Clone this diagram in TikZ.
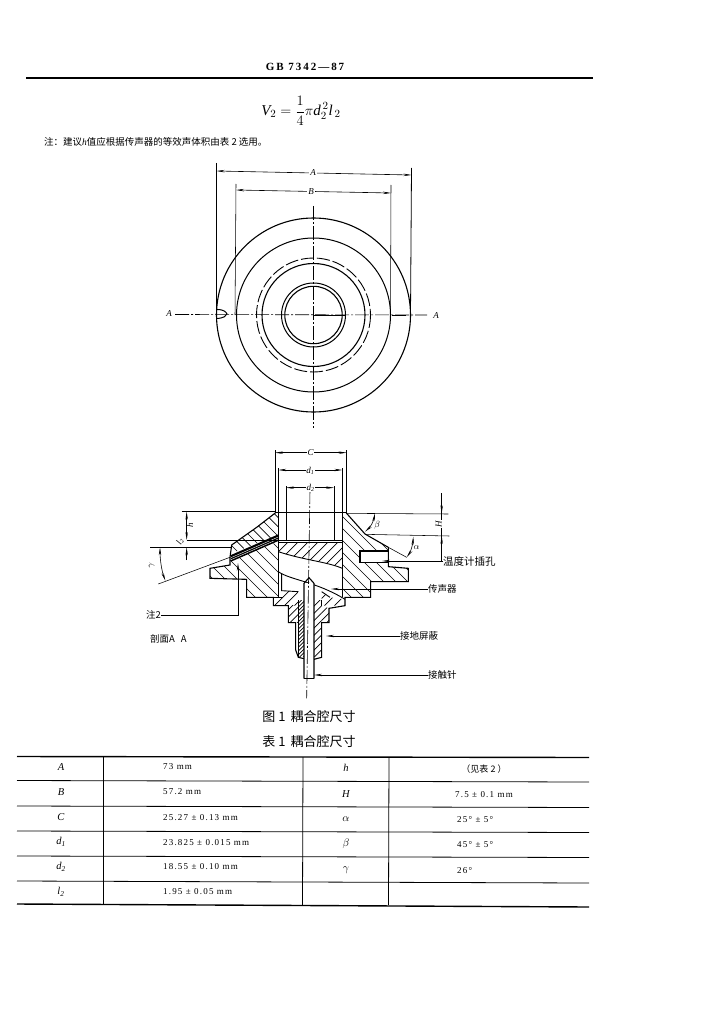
\documentclass[tikz,border=0pt]{standalone}
\usepackage{fontspec}
\setmainfont{Liberation Serif}
\newfontfamily\cjk{Noto Sans CJK SC}
\newfontfamily\tabfont[LetterSpace=13]{Liberation Serif}
\newfontfamily\hdfont[LetterSpace=18]{Liberation Serif}
\usetikzlibrary{arrows.meta}
\tikzset{
  thin line/.style={line width=0.55pt,black},
  outline/.style={line width=1.1pt,black,line join=miter},
  hatchline/.style={line width=0.7pt,black},
  centre/.style={line width=0.6pt,black,dash pattern=on 14pt off 2pt on 2pt off 2pt},
  dim/.style={line width=0.6pt,black,{Stealth[length=8pt,width=2.4pt]}-{Stealth[length=8pt,width=2.4pt]}},
  lead/.style={line width=0.6pt,black,-{Stealth[length=8pt,width=2.4pt]}},
  lbl/.style={inner sep=0.8pt,font=\fontsize{9}{10}\selectfont\itshape,fill=white},
  cn/.style={inner sep=0pt,font=\fontsize{9.5}{10}\cjk},
  cell/.style={inner sep=0pt,font=\fontsize{9}{10}\tabfont},
  cellm/.style={inner sep=0pt,font=\fontsize{10.5}{11}\selectfont\itshape},
  rule/.style={line width=0.8pt,black},
  heavyrule/.style={line width=1.4pt,black}
}
% hatch: #1 direction (+1 = "\", -1 = "/"), #2 spacing, #3 closed path
\newcommand\hatchfill[3]{%
  \begin{scope}
    \clip #3;
    \foreach \n in {0,...,200}{%
      \pgfmathsetmacro\hk{-600+\n*#2}%
      \draw[hatchline] (\hk,0) -- ++(#1*900,900);
    }
  \end{scope}}
\begin{document}
\begin{tikzpicture}[x=1pt,y=-1pt]
\useasboundingbox (0,0) rectangle (719,1024);
\fill[white] (0,0) rectangle (719,1024);

% header
\node[inner sep=0pt,font=\fontsize{11}{12}\hdfont\bfseries] (hd) at (305,67) {GB 7342—87};
\coordinate (hl) at (26,78); \coordinate (hr) at (593,78);
\draw[heavyrule] (hl) -- (hr);
\node[inner sep=0pt,font=\fontsize{15}{16}\selectfont] (fm) at (301,111) {$\displaystyle \mathit{V}_{2}=\frac{1}{4}\pi \mathit{d}_{2}^{\,2}\mathit{l}_{\,2}$};
\node[inner sep=0pt,anchor=west,font=\fontsize{9.5}{10}\cjk] (nt) at (44,142) {注：建议{\fontspec{Liberation Serif}\itshape h}值应根据传声器的等效声体积由表 2 选用。};

% ---------- top view
\coordinate (o) at (313.5,315);
\draw[line width=1.1pt] (o) circle (97);
\draw[line width=1pt] (o) circle (77);
\draw[line width=0.9pt,dash pattern=on 13pt off 3pt] (o) circle (57);
\draw[line width=1.1pt] (o) circle (51.5);
\draw[line width=1pt] (o) circle (32);
\draw[line width=1.1pt] (o) circle (28.7);
\draw[line width=1pt] (217,309.5) .. controls (224,309.5) and (226,312) .. (227,314) .. controls (226,316) and (224,318) .. (217,318.5);
\coordinate (a1) at (175,314.5); \coordinate (a2) at (427,315);
\draw[centre] (a1) -- (a2);
\draw[line width=1pt] (313,315) -- (345,315) (392,315) -- (406,315);
\coordinate (v1) at (313.5,206); \coordinate (v2) at (313.5,428);
\draw[centre] (v1) -- (v2);
\node[lbl] (secL) at (169,314) {A};
\node[lbl] (secR) at (436,316) {A};
\coordinate (ea1) at (216.5,163); \coordinate (ea2) at (411.5,168);
\coordinate (eb1) at (236,184); \coordinate (eb2) at (391,185);
\draw[thin line,line width=0.8pt] (ea1) -- (216.5,315);
\draw[thin line,line width=0.8pt] (ea2) -- (410.5,315);
\draw[thin line] (eb1) -- (235,315);
\draw[thin line] (eb2) -- (390.5,315);
\draw[dim] (216.5,171) -- (411.5,175);
\node[lbl] (dA) at (313,173) {A};
\draw[dim] (236,190) -- (391,193);
\node[lbl] (dB) at (311,191.5) {B};

% ---------- section (coordinates in 3x crop units)
\begin{scope}[shift={(130,440)},x=0.33333pt,y=-0.33333pt]
  % hatched regions
  \hatchfill{1}{36}{(445,306) -- (445,472) -- (350,472) -- (350,418) -- (240,415) -- (240,385) -- (300,375) -- (300,352) -- cycle}
  \hatchfill{1}{36}{(637,218) -- (648,218) -- (705,282) -- (775,322) -- (775,380) -- (835,385) -- (835,425) -- (722,425) -- (722,472) -- (637,472) -- (637,400) -- cycle}
  \hatchfill{1}{28}{(437,218) -- (445,218) -- (445,284) -- (305,340) -- (305,315) -- (380,262) -- cycle}
  \hatchfill{-1}{30}{(445,306) -- (637,306) -- (637,385) .. controls (590,365) and (520,360) .. (445,335) -- cycle}
  \hatchfill{-1}{30}{(430,472) -- (455,472) -- (455,452) -- (505,455) -- (505,497) -- (430,497) -- cycle}
  \hatchfill{-1}{30}{(575,455) -- (600,472) -- (645,478) -- (645,497) -- (575,497) -- cycle}
  \hatchfill{-1}{22}{(475,497) -- (505,497) -- (505,548) -- (475,548) -- cycle}
  \hatchfill{-1}{22}{(575,497) -- (597,505) -- (597,548) -- (575,548) -- cycle}
  \hatchfill{-1}{11}{(505,480) -- (522,480) -- (522,650) -- (505,650) -- cycle}
  \hatchfill{-1}{22}{(552,480) -- (575,480) -- (575,650) -- (552,650) -- cycle}
  % slot
  \fill[black] (303,345) -- (445,283) -- (445,303) -- (303,365) -- cycle;
  \draw[white,line width=0.4pt] (303,353) -- (445,291) (303,359) -- (445,297);
  % thermometer hole
  \fill[white] (690,333) rectangle (775,367);
  \draw[outline] (775,333) -- (690,333) -- (690,367) -- (775,367);
  % outline
  \draw[outline] (437,218) -- (380,262) -- (305,315) -- (300,352) -- (300,375) -- (240,385) -- (240,415) -- (350,418) -- (350,472) -- (430,472) -- (430,497) -- (475,497) -- (475,548) -- (497,548) -- (497,630) -- (505,652) -- (522,656);
  \draw[outline] (648,218) -- (705,282) -- (775,322) -- (775,380) -- (835,385) -- (835,425) -- (722,425) -- (722,472) -- (645,472) -- (645,497) -- (597,505) -- (597,548) -- (575,548) -- (575,652) -- (552,658);
  % bore, cap and cavity
  \draw[outline] (445,150) -- (445,472);
  \draw[outline] (637,150) -- (637,472);
  \draw[line width=0.9pt] (437,218) -- (648,218);
  \draw[line width=0.9pt] (445,300) -- (637,300);
  \draw[line width=0.9pt] (445,306) -- (637,306);
  \draw[line width=0.9pt] (445,335) .. controls (520,360) and (590,365) .. (637,385);
  \draw[line width=0.9pt] (445,395) .. controls (480,420) and (560,425) .. (645,478);
  \draw[line width=0.9pt] (455,400) -- (455,452) -- (505,455);
  \draw[line width=0.9pt] (575,455) -- (600,472);
  \draw[line width=0.9pt] (430,472) -- (458,472);
  % sleeves and pin
  \draw[line width=0.9pt] (505,480) -- (505,652) (575,480) -- (575,497);
  \fill[white] (522,430) rectangle (552,716);
  \draw[outline] (522,716) -- (522,430) -- (537,413) -- (552,430) -- (552,716);
  \draw[outline] (522,716) -- (552,716);
  % centre line and extensions
  \coordinate (cu) at (540,150); \coordinate (cd) at (530,775);
  \draw[centre] (cu) -- (cd);
  \draw[thin line,line width=0.8pt] (435,30) -- (435,218);
  \draw[thin line,line width=0.8pt] (650,30) -- (650,218);
  \draw[thin line] (445,85) -- (445,150) (637,85) -- (637,150);
  \draw[thin line] (468,138) -- (468,300) (612,138) -- (612,300);
  \draw[thin line] (155,215) -- (437,215);
  \draw[thin line] (648,220) -- (955,222);
  \draw[thin line] (170,300) -- (445,300);
  \draw[line width=0.9pt] (60,321) -- (305,321);
  \draw[thin line] (85,432) -- (305,350);
  \draw[thin line] (705,283) -- (958,288);
  \draw[thin line] (775,322) -- (830,352);
  % dimensions
  \draw[dim] (435,38) -- (650,38);
  \node[lbl] (dC) at (542,38) {C};
  \draw[dim] (445,90) -- (637,90);
  \node[lbl] (dd1) at (541,92) {d\textsubscript{1}};
  \draw[dim] (468,143) -- (612,143);
  \node[lbl] (dd2) at (542,143) {d\textsubscript{2}};
  \draw[dim] (170,215) -- (170,300);
  \draw[lead] (170,360) -- (170,322);
  \node[lbl,rotate=90,fill=none] (dh) at (180,257) {h};
  \node[lbl,rotate=60,fill=none] (dl) at (150,304) {l\textsubscript{2}};
  \draw[line width=0.55pt] (935,160) -- (935,350);
  \draw[lead] (935,185) -- (935,220);
  \draw[lead] (935,325) -- (935,288);
  \node[lbl,rotate=90] (dH) at (926,253) {H};
  \draw[dim] (90,322) .. controls (90,360) and (96,395) .. (106,422);
  \node[lbl,rotate=80,fill=none] (dg) at (65,378) {$\gamma$};
  \draw[dim] (735,220) .. controls (730,245) and (722,260) .. (705,275);
  \node[lbl,fill=none] (db) at (742,256) {$\beta$};
  \draw[dim] (850,290) .. controls (848,315) and (842,335) .. (830,352);
  \node[lbl,fill=none] (da) at (860,322) {$\alpha$};
\end{scope}

% labels and leaders of the section
\node[cn,anchor=west,font=\fontsize{10.5}{11}\cjk] (lT) at (443,561) {温度计插孔};
\node[cn,anchor=west] (lM) at (428,589) {传声器};
\node[cn,anchor=west] (lS) at (400,636) {接地屏蔽};
\node[cn,anchor=west] (lP) at (428,675) {接触针};
\node[cn,anchor=west] (lN) at (146,615) {注2};
\node[cn,anchor=west] (lA) at (150,639) {剖面A\hspace{6pt}A};
\coordinate (tT) at (382,561); \coordinate (tM) at (331,589); \coordinate (tS) at (326,636); \coordinate (tP) at (314,675);
\coordinate (nK) at (238,615); \coordinate (nT) at (238,563);
\draw[lead] (lT.west) -- (tT);
\draw[line width=0.6pt] (441.5,561) -- (441.5,536);
\draw[lead] (lM.west) -- (tM);
\draw[lead] (lS.west) -- (tS);
\draw[lead] (lP.west) -- (tP);
\draw[lead] (lN.east) -- (nK) -- (nT);

% captions
\node[inner sep=0pt,font=\fontsize{13}{14}\cjk] (c1) at (309,717) {图 1\hspace{5pt}耦合腔尺寸};
\node[inner sep=0pt,font=\fontsize{13}{14}\cjk] (c2) at (309,742) {表 1\hspace{5pt}耦合腔尺寸};

% table
\draw[heavyrule] (17,756.5) -- (589,757.5);
\draw[rule] (17,780.5) -- (589,782);
\draw[rule] (17,806) -- (589,807.5);
\draw[rule] (17,831) -- (589,832.5);
\draw[rule] (17,856) -- (589,857.5);
\draw[rule] (17,881) -- (589,883);
\draw[heavyrule] (17,904) -- (589,907);
\draw[rule] (103,757) -- (103,904);
\draw[rule] (303,757) -- (302.5,905);
\draw[rule] (389,757) -- (388.5,905);

\node[cellm] (t11) at (61,767) {A};
\node[cellm] (t21) at (61,792) {B};
\node[cellm] (t31) at (61,817) {C};
\node[cellm] (t41) at (61,842) {d\textsubscript{1}};
\node[cellm] (t51) at (61,867) {d\textsubscript{2}};
\node[cellm] (t61) at (61,892) {l\textsubscript{2}};
\node[cell,anchor=west] (t12) at (163,767) {73 mm};
\node[cell,anchor=west] (t22) at (163,792) {57.2 mm};
\node[cell,anchor=west] (t32) at (163,818) {25.27 ± 0.13 mm};
\node[cell,anchor=west] (t42) at (163,843) {23.825 ± 0.015 mm};
\node[cell,anchor=west] (t52) at (163,867) {18.55 ± 0.10 mm};
\node[cell,anchor=west] (t62) at (163,892) {1.95 ± 0.05 mm};
\node[cellm] (t13) at (346,768) {h};
\node[cellm] (t23) at (346,794) {H};
\node[cellm] (t33) at (346,819) {$\alpha$};
\node[cellm] (t43) at (346,844) {$\beta$};
\node[cellm] (t53) at (346,870) {$\gamma$};
\node[cell,font=\fontsize{9}{10}\cjk] (t14) at (484,769) {（见表 2 ）};
\node[cell,anchor=west] (t24) at (455,795) {7.5 ± 0.1 mm};
\node[cell,anchor=west] (t34) at (457,820) {25° ± 5°};
\node[cell,anchor=west] (t44) at (457,845) {45° ± 5°};
\node[cell,anchor=west] (t54) at (457,871) {26°};
\end{tikzpicture}
\end{document}
